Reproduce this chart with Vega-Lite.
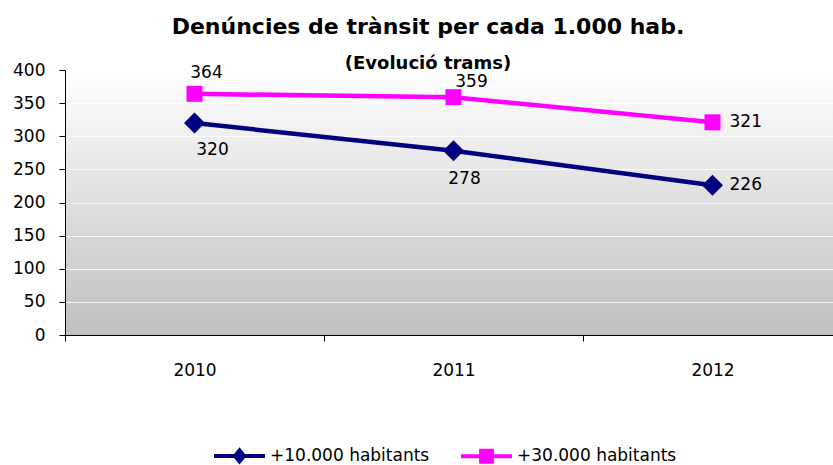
{
  "$schema": "https://vega.github.io/schema/vega-lite/v6.json",
  "width": 768,
  "height": 265,
  "autosize": {"type": "none"},
  "padding": {"left": 65, "top": 70, "right": 0, "bottom": 130},
  "background": "white",
  "title": {
    "text": "Denúncies de trànsit per cada 1.000 hab.",
    "subtitle": "(Evolució trams)",
    "font": "DejaVu Sans",
    "fontSize": 22,
    "fontWeight": "bold",
    "color": "black",
    "subtitleFont": "DejaVu Sans",
    "subtitleFontSize": 18,
    "subtitleFontWeight": "bold",
    "subtitleColor": "black",
    "anchor": "middle",
    "dx": -21,
    "offset": -13,
    "subtitlePadding": 16
  },
  "data": {
    "values": [
      {"year": "2010", "series": "+10.000 habitants", "value": 320},
      {"year": "2011", "series": "+10.000 habitants", "value": 278},
      {"year": "2012", "series": "+10.000 habitants", "value": 226},
      {"year": "2010", "series": "+30.000 habitants", "value": 364},
      {"year": "2011", "series": "+30.000 habitants", "value": 359},
      {"year": "2012", "series": "+30.000 habitants", "value": 321}
    ]
  },
  "encoding": {
    "x": {
      "field": "year",
      "type": "ordinal",
      "bandPosition": 0.5,
      "scale": {"type": "band", "range": [0, 777], "paddingInner": 0, "paddingOuter": 0},
      "axis": {
        "title": null,
        "domainColor": "black",
        "tickColor": "black",
        "tickSize": 6,
        "tickBand": "extent",
        "labelFont": "DejaVu Sans",
        "labelFontSize": 17,
        "labelColor": "black",
        "labelPadding": 21,
        "labelAngle": 0,
        "grid": false
      }
    },
    "y": {
      "field": "value",
      "type": "quantitative",
      "scale": {"domain": [0, 400], "nice": false},
      "axis": {
        "title": null,
        "values": [0, 50, 100, 150, 200, 250, 300, 350, 400],
        "domainColor": "black",
        "tickColor": "black",
        "tickSize": 6,
        "labelFont": "DejaVu Sans",
        "labelFontSize": 17,
        "labelColor": "black",
        "labelPadding": 14,
        "grid": true,
        "gridColor": "white",
        "gridOpacity": 0.8,
        "gridWidth": 1
      }
    }
  },
  "layer": [
    {
      "mark": {"type": "line", "strokeWidth": 4.5},
      "encoding": {
        "color": {
          "field": "series",
          "type": "nominal",
          "scale": {"domain": ["+10.000 habitants", "+30.000 habitants"], "range": ["#000080", "#ff00ff"]},
          "legend": {
            "orient": "none",
            "legendX": 149,
            "legendY": 360,
            "direction": "horizontal",
            "title": null,
            "padding": 0,
            "labelFont": "DejaVu Sans",
            "labelFontSize": 17,
            "labelColor": "black",
            "labelOffset": 5,
            "symbolSize": 2601,
            "columnPadding": 31,
            "encode": {
              "symbols": {
                "update": {
                  "shape": {"signal": "datum.value === '+10.000 habitants' ? 'M-1,-0.08H1V0.08H-1Z M-0.28,0L0,-0.34L0.28,0L0,0.34Z' : 'M-1,-0.08H1V0.08H-1Z M-0.29,-0.29H0.29V0.29H-0.29Z'"},
                  "fill": {"scale": "color", "field": "value"},
                  "fillOpacity": {"value": 1},
                  "opacity": {"value": 1},
                  "stroke": {"value": "transparent"},
                  "strokeWidth": {"value": 0}
                }
              }
            }
          }
        }
      }
    },
    {
      "transform": [{"filter": "datum.series === '+10.000 habitants'"}],
      "mark": {"type": "point", "shape": "diamond", "size": 441, "filled": true, "color": "#000080", "opacity": 1}
    },
    {
      "transform": [{"filter": "datum.series === '+30.000 habitants'"}],
      "mark": {"type": "point", "shape": "square", "size": 256, "filled": true, "color": "#ff00ff", "opacity": 1}
    },
    {
      "transform": [{"filter": "datum.series === '+30.000 habitants' && datum.year === '2010'"}],
      "mark": {"type": "text", "font": "DejaVu Sans", "fontSize": 17, "color": "black", "align": "center", "baseline": "alphabetic", "dx": 12, "dy": -16},
      "encoding": {"text": {"field": "value", "type": "quantitative"}}
    },
    {
      "transform": [{"filter": "datum.series === '+30.000 habitants' && datum.year === '2011'"}],
      "mark": {"type": "text", "font": "DejaVu Sans", "fontSize": 17, "color": "black", "align": "center", "baseline": "alphabetic", "dx": 18, "dy": -10},
      "encoding": {"text": {"field": "value", "type": "quantitative"}}
    },
    {
      "transform": [{"filter": "datum.series === '+10.000 habitants' && datum.year === '2010'"}],
      "mark": {"type": "text", "font": "DejaVu Sans", "fontSize": 17, "color": "black", "align": "center", "baseline": "alphabetic", "dx": 18, "dy": 32},
      "encoding": {"text": {"field": "value", "type": "quantitative"}}
    },
    {
      "transform": [{"filter": "datum.series === '+10.000 habitants' && datum.year === '2011'"}],
      "mark": {"type": "text", "font": "DejaVu Sans", "fontSize": 17, "color": "black", "align": "center", "baseline": "alphabetic", "dx": 11, "dy": 33},
      "encoding": {"text": {"field": "value", "type": "quantitative"}}
    },
    {
      "transform": [{"filter": "datum.year === '2012'"}],
      "mark": {"type": "text", "font": "DejaVu Sans", "fontSize": 17, "color": "black", "align": "left", "baseline": "middle", "dx": 17, "dy": 0},
      "encoding": {"text": {"field": "value", "type": "quantitative"}}
    }
  ],
  "config": {
    "view": {
      "stroke": null,
      "fill": {
        "gradient": "linear",
        "x1": 0, "y1": 0, "x2": 0, "y2": 1,
        "stops": [
          {"offset": 0, "color": "#ffffff"},
          {"offset": 1, "color": "#bfbfbf"}
        ]
      }
    }
  }
}
